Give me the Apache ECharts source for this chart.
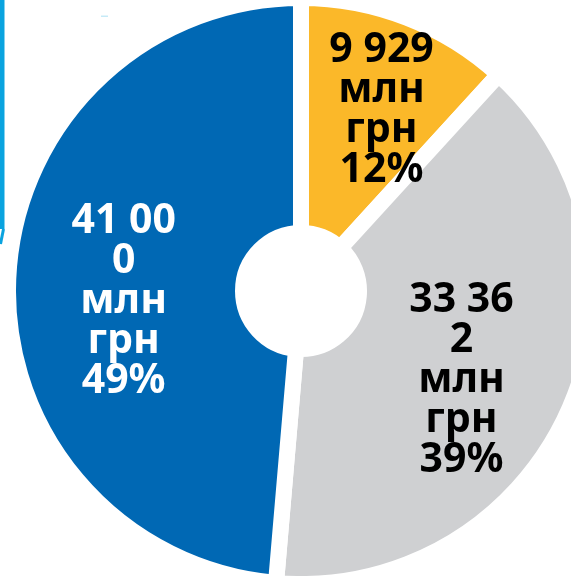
<!DOCTYPE html>
<html>
<head>
<meta charset="utf-8">
<script src="https://cdn.jsdelivr.net/npm/echarts@6/dist/echarts.min.js"></script>
<style>
html,body{margin:0;padding:0;background:#fff;}
#chart{width:571px;height:576px;}
</style>
</head>
<body>
<div id="chart"></div>
<script>
// Data (clockwise from 12 o'clock)
var categories = ['Yellow', 'Gray', 'Blue'];
var values = [9929, 33362, 41000];
var unitLines = ['млн', 'грн'];
var sliceColors = ['#FBB829', '#CFD0D2', '#0068B4'];
var labelColors = ['#000000', '#000000', '#FFFFFF'];
var labelOffsets = [[16, -14], [-3, 18], [1, 18]];
var numberWrapChars = 5; // the original wraps the figure after 5 characters

function fmt(v) {
  var s = String(v).replace(/\B(?=(\d{3})+(?!\d))/g, ' ');
  if (s.length > numberWrapChars) {
    s = s.slice(0, numberWrapChars) + '\n' + s.slice(numberWrapChars);
  }
  return s;
}

var chart = echarts.init(document.getElementById('chart'), null, {renderer: 'canvas'});

var pieData = categories.map(function (c, i) {
  return {
    name: c,
    value: values[i],
    itemStyle: {color: sliceColors[i]},
    label: {color: labelColors[i], offset: labelOffsets[i]}
  };
});

chart.setOption({
  animation: false,
  backgroundColor: '#ffffff',
  graphic: [
    {type: 'rect', shape: {x: 0, y: 0, width: 4.5, height: 229}, style: {fill: '#0AA3DF'}, silent: true},
    {type: 'line', shape: {x1: 3.5, y1: 229, x2: 0.5, y2: 244}, style: {stroke: '#0AA3DF', lineWidth: 3}, silent: true},
    {type: 'rect', shape: {x: 101, y: 15.5, width: 7, height: 1.5}, style: {fill: '#C6EAF7'}, silent: true}
  ],
  series: [{
    type: 'pie',
    center: [301, 291],
    radius: [58, 293],
    startAngle: 90,
    clockwise: true,
    percentPrecision: 0,
    minShowLabelAngle: 0,
    avoidLabelOverlap: false,
    silent: true,
    itemStyle: {borderColor: '#ffffff', borderWidth: 16, borderJoin: 'miter', borderMiterLimit: 10},
    label: {
      show: true,
      position: 'inside',
      formatter: function (p) {
        return fmt(p.value) + '\n' + unitLines.join('\n') + '\n' + p.percent + '%';
      },
      fontFamily: 'Noto Sans',
      fontWeight: 'bold',
      fontSize: 41,
      lineHeight: 40,
      align: 'center'
    },
    labelLayout: {hideOverlap: false},
    labelLine: {show: false},
    emphasis: {disabled: true},
    data: pieData
  }]
});
</script>
</body>
</html>
